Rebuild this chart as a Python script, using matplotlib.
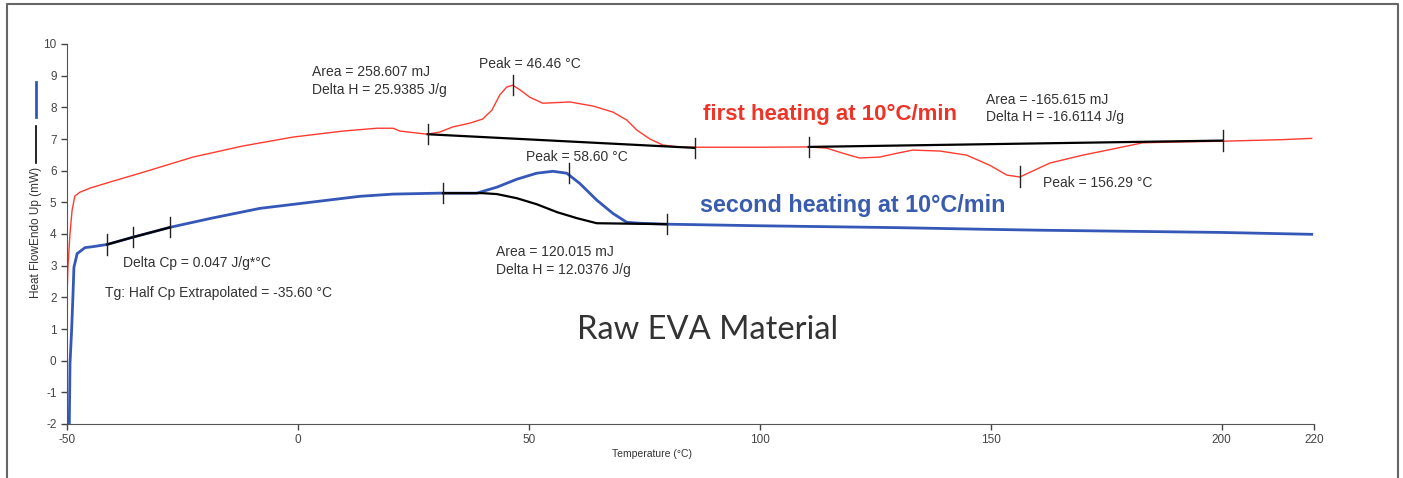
import matplotlib.pyplot as plt
from matplotlib.lines import Line2D

plt.rcParams['font.family'] = ['Liberation Sans', 'DejaVu Sans']
plt.rcParams['axes.unicode_minus'] = False

# first heating curve (red)
red_t = [-50.0, -49.8, -49.35, -48.9, -48.3, -47.2, -45.0, -40.7, -33.5, -22.7, -11.9, -1.1,
         9.7, 17.1, 20.6, 22.1, 28.1, 30.7, 33.5, 37.2, 40.0, 42.0, 43.7, 45.2, 46.5, 48.1,
         50.2, 53.0, 58.9, 63.9, 68.2, 71.2, 73.4, 76.2, 79.0, 82.7, 85.9, 100.0, 110.6,
         114.5, 118.0, 121.6, 126.0, 129.7, 133.1, 139.0, 144.8, 149.8, 153.5, 156.3, 162.8,
         169.9, 177.3, 182.9, 191.6, 200.2, 213.2, 219.5]
red_hf = [2.0, 2.95, 4.02, 4.75, 5.2, 5.32, 5.45, 5.64, 5.95, 6.43, 6.78, 7.06,
          7.25, 7.34, 7.34, 7.25, 7.15, 7.22, 7.38, 7.5, 7.63, 7.91, 8.39, 8.64, 8.7, 8.55,
          8.32, 8.13, 8.17, 8.04, 7.85, 7.6, 7.28, 7.0, 6.81, 6.74, 6.74, 6.74, 6.75,
          6.71, 6.55, 6.4, 6.43, 6.55, 6.65, 6.62, 6.49, 6.17, 5.86, 5.8, 6.24,
          6.49, 6.71, 6.88, 6.91, 6.93, 6.98, 7.02]

# second heating curve (blue)
blue_t = [-49.5, -49.35, -49.0, -48.7, -48.5, -47.8, -46.1, -44.4, -41.3, -35.7, -27.7, -19.0,
          -8.2, 2.6, 13.4, 20.6, 30.7, 38.7, 43.1, 47.4, 51.7, 55.2, 58.2, 61.0, 64.7, 68.2,
          71.2, 74.0, 79.9, 100.0, 130.0, 148.3, 160.6, 177.3, 199.6, 219.5]
blue_hf = [-2.0, -0.09, 0.96, 2.1, 2.95, 3.38, 3.57, 3.6, 3.67, 3.9, 4.21, 4.49,
           4.81, 5.0, 5.19, 5.26, 5.29, 5.29, 5.48, 5.73, 5.92, 5.98, 5.92, 5.6, 5.07, 4.65,
           4.37, 4.34, 4.31, 4.26, 4.2, 4.15, 4.12, 4.09, 4.05, 3.99]

# integration baselines (black)
base1_t = [28.1, 85.9]
base1_hf = [7.15, 6.72]
base2_t = [110.6, 200.2]
base2_hf = [6.75, 6.95]
base3_t = [31.4, 40.0, 43.1, 47.4, 51.7, 56.1, 60.4, 64.7, 69.7, 79.9]
base3_hf = [5.29, 5.29, 5.26, 5.13, 4.94, 4.69, 4.5, 4.34, 4.33, 4.31]
tg_t = [-41.3, -35.7, -27.7]
tg_hf = [3.67, 3.9, 4.21]

# limit / peak tick marks: (temperature, low, high)
marks = [(28.1, 6.83, 7.47), (85.9, 6.40, 7.04), (110.6, 6.43, 7.07), (200.2, 6.63, 7.27),
         (46.46, 8.39, 9.02), (156.29, 5.48, 6.14),
         (31.4, 4.97, 5.61), (79.9, 4.0, 4.64), (58.6, 5.6, 6.24),
         (-41.3, 3.35, 3.99), (-35.7, 3.58, 4.22), (-27.7, 3.89, 4.53)]

x_ticks = [-50, 0, 50, 100, 150, 200, 220]
y_ticks = list(range(-2, 11))

red = '#ff3b2f'
blue = '#3557b7'
grey = '#333333'

fig = plt.figure(figsize=(14.03, 4.78), dpi=100)
ax = fig.add_axes([67 / 1403, 1 - 424 / 478, (1314 - 67) / 1403, (424 - 44) / 478])

ax.plot(red_t, red_hf, color=red, lw=1.0)
ax.plot(blue_t, blue_hf, color=blue, lw=2.0)
for bt, bh in [(base1_t, base1_hf), (base2_t, base2_hf), (base3_t, base3_hf), (tg_t, tg_hf)]:
    ax.plot(bt, bh, color='black', lw=1.6)
for t, lo, hi in marks:
    ax.plot([t, t], [lo, hi], color='#222222', lw=1.0)

ax.set_xlim(-50, 220)
ax.set_ylim(-2, 10)
ax.set_xticks(x_ticks)
ax.set_yticks(y_ticks)
ax.tick_params(labelsize=8.5, colors='#444444', length=4, width=1)
for side in ['top', 'right']:
    ax.spines[side].set_visible(False)
for side in ['left', 'bottom']:
    ax.spines[side].set_color('#555555')

fs = 10
ls = 1.3
ax.text(3.0, 8.83, 'Area = 258.607 mJ\nDelta H = 25.9385 J/g', fontsize=fs, color=grey,
        va='center', ha='left', linespacing=ls)
ax.text(39.2, 9.37, 'Peak = 46.46 °C', fontsize=fs, color=grey, va='center')
ax.text(149.0, 7.96, 'Area = -165.615 mJ\nDelta H = -16.6114 J/g', fontsize=fs, color=grey,
        va='center', linespacing=ls)
ax.text(161.3, 5.6, 'Peak = 156.29 °C', fontsize=fs, color=grey, va='center')
ax.text(49.4, 6.43, 'Peak = 58.60 °C', fontsize=fs, color=grey, va='center')
ax.text(42.9, 3.15, 'Area = 120.015 mJ\nDelta H = 12.0376 J/g', fontsize=fs, color=grey,
        va='center', linespacing=ls)
ax.text(-37.9, 3.07, 'Delta Cp = 0.047 J/g*°C', fontsize=fs, color=grey, va='center')
ax.text(-41.8, 2.15, 'Tg: Half Cp Extrapolated = -35.60 °C', fontsize=fs, color=grey, va='center')

ax.text(87.7, 7.76, 'first heating at 10°C/min', fontsize=16, fontweight='bold',
        color='#ee3428', va='center')
ax.text(87.0, 4.9, 'second heating at 10°C/min', fontsize=16.8, fontweight='bold',
        color='#3a5cae', va='center')
ax.text(60.4, 0.96, 'Raw EVA Material', fontsize=23.5, color='#333333', va='center',
        family='Lato')

fig.text(652 / 1403, 1 - 454 / 478, 'Temperature (°C)', fontsize=7.5, color='#333333',
         ha='center', va='center')
fig.text(36 / 1403, 1 - 232 / 478, 'Heat FlowEndo Up (mW)', fontsize=8.5, color='#333333',
         rotation=90, ha='center', va='center')
# legend strokes next to the y label
fig.add_artist(Line2D([36 / 1403, 36 / 1403], [1 - 82 / 478, 1 - 117 / 478], color=blue, lw=2))
fig.add_artist(Line2D([36 / 1403, 36 / 1403], [1 - 126 / 478, 1 - 163 / 478], color='black', lw=1.2))

# outer frame (open at the bottom)
fig.add_artist(Line2D([7 / 1403, 7 / 1403, 1398 / 1403, 1398 / 1403],
                      [0, 1 - 4 / 478, 1 - 4 / 478, 0], color='#666666', lw=1.5))

fig.savefig('out.png', dpi=100)
